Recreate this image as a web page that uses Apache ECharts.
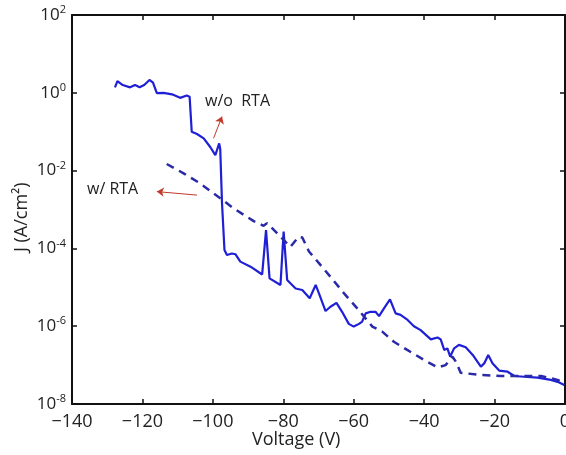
<!DOCTYPE html>
<html>
<head>
<meta charset="utf-8">
<script src="https://cdn.jsdelivr.net/npm/echarts@6/dist/echarts.min.js"></script>
<style>
html, body { margin: 0; padding: 0; background: #fff; }
#chart { width: 566px; height: 455px; }
</style>
</head>
<body>
<div id="chart"></div>
<script>
// w/o RTA (solid): voltage and log10(J)
var woVolt = [-127.8, -127.1, -125.6, -123.5, -122.1, -120.8, -119.5, -118.0, -117.0, -115.9,
  -114.0, -111.6, -109.3, -107.4, -106.6, -106.0, -104.5, -102.6, -100.7, -99.3,
  -98.8, -98.2, -97.9, -97.4, -96.7, -96.0, -94.6, -93.6, -92.2, -89.3,
  -86.0, -84.9, -83.9, -80.8, -79.9, -78.9, -76.5, -74.6, -72.5, -70.8,
  -69.9, -68.0, -66.6, -64.9, -63.3, -61.4, -60.0, -58.5, -57.6, -56.6,
  -55.2, -53.8, -52.8, -51.4, -49.7, -48.1, -46.7, -44.7, -42.9, -41.0,
  -38.1, -36.2, -35.3, -34.3, -33.4, -32.6, -31.5, -30.1, -28.2, -26.2,
  -23.9, -22.9, -21.8, -20.6, -18.7, -16.3, -14.4, -11.6, -7.8, -4.0,
  -2.1, -0.2];
var woLogJ = [0.14, 0.30, 0.20, 0.14, 0.20, 0.14, 0.20, 0.33, 0.26, -0.01,
  0.00, -0.04, -0.13, -0.07, -0.10, -1.00, -1.06, -1.17, -1.40, -1.60,
  -1.64, -1.30, -1.45, -2.84, -4.04, -4.17, -4.13, -4.15, -4.34, -4.47,
  -4.67, -3.53, -4.77, -4.94, -3.57, -4.81, -5.03, -5.07, -5.28, -4.94,
  -5.15, -5.61, -5.50, -5.40, -5.63, -5.94, -6.01, -5.94, -5.88, -5.67,
  -5.63, -5.63, -5.74, -5.54, -5.31, -5.67, -5.71, -5.84, -6.00, -6.10,
  -6.34, -6.29, -6.34, -6.61, -6.57, -6.78, -6.57, -6.48, -6.54, -6.74,
  -7.04, -6.95, -6.74, -6.95, -7.14, -7.17, -7.28, -7.30, -7.32, -7.38,
  -7.43, -7.51];

// w/ RTA (dashed): voltage and log10(J)
var wVolt = [-113.1, -108.3, -103.6, -97.9, -94.1, -88.4, -85.6, -84.6, -82.2, -81.7,
  -78.0, -75.6, -74.6, -72.7, -69.4, -66.6, -62.8, -59.0, -54.7, -51.9,
  -48.6, -44.8, -40.0, -36.2, -33.9, -32.0, -31.0, -29.6, -23.9, -18.2,
  -12.5, -6.8, -2.1, 0.0];
var wLogJ = [-1.83, -2.07, -2.33, -2.71, -2.97, -3.30, -3.42, -3.35, -3.57, -3.61,
  -3.96, -3.70, -3.72, -4.08, -4.43, -4.73, -5.15, -5.54, -6.01, -6.14,
  -6.40, -6.61, -6.87, -7.06, -7.00, -6.78, -6.91, -7.20, -7.25, -7.28,
  -7.28, -7.28, -7.38, -7.47];

var xTicks = [-140, -120, -100, -80, -60, -40, -20, 0];

function pairs(vs, ls) {
  return vs.map(function (v, i) { return [v, Math.pow(10, ls[i])]; });
}

var chart = echarts.init(document.getElementById('chart'), null, {renderer: 'canvas'});

var axisFont = 'Open Sans, DejaVu Sans, sans-serif';
var lineBlack = {show: true, onZero: false, lineStyle: {color: '#111', width: 2}};
var tickIn = {show: true, inside: true, length: 5, lineStyle: {color: '#111', width: 1.5}};

var option = {
  animation: false,
  grid: {left: 72, right: 1, top: 15, bottom: 51, containLabel: false, outerBoundsMode: 'none'},
  xAxis: [{
    type: 'value', min: -140, max: 0, interval: 20,
    axisLine: lineBlack, axisTick: tickIn, splitLine: {show: false},
    axisLabel: {
      fontSize: 18, color: '#222', fontFamily: axisFont, margin: 9,
      formatter: function (v) { return xTicks.indexOf(v) >= 0 ? (v < 0 ? '\u2212' + (-v) : String(v)) : ''; }
    }
  }, {
    type: 'value', min: -140, max: 0, interval: 20, position: 'top',
    axisLine: lineBlack, axisTick: tickIn, splitLine: {show: false},
    axisLabel: {show: false}
  }],
  yAxis: [{
    type: 'log', logBase: 10, min: 1e-8, max: 1e2, interval: 2,
    axisLine: lineBlack, axisTick: tickIn, splitLine: {show: false},
    minorTick: {show: false},
    axisLabel: {
      margin: 6, color: '#222', fontFamily: axisFont,
      formatter: function (v) {
        var e = Math.round(Math.log10(v));
        return '{b|10}{s|' + e + '}';
      },
      rich: {
        b: {fontSize: 17, color: '#222', fontFamily: axisFont},
        s: {fontSize: 11, color: '#222', fontFamily: axisFont, padding: [0, 0, 10, 0]}
      }
    }
  }, {
    type: 'log', logBase: 10, min: 1e-8, max: 1e2, interval: 2, position: 'right',
    axisLine: lineBlack, axisTick: tickIn, splitLine: {show: false},
    axisLabel: {show: false}
  }],
  series: [{
    name: 'w/o RTA', type: 'line', xAxisIndex: 0, yAxisIndex: 0,
    data: pairs(woVolt, woLogJ), showSymbol: false,
    lineStyle: {color: '#1f1fd6', width: 2.2},
    markLine: {
      silent: true, symbol: ['none', 'arrow'], symbolSize: 7,
      label: {show: false},
      lineStyle: {color: '#c0392b', width: 1, type: 'solid'},
      data: [[{coord: [-99.8, Math.pow(10, -1.17)]}, {coord: [-97.4, Math.pow(10, -0.61)]}]]
    }
  }, {
    name: 'w/ RTA', type: 'line', xAxisIndex: 0, yAxisIndex: 0,
    data: pairs(wVolt, wLogJ), showSymbol: false,
    lineStyle: {color: '#2a2aa8', width: 2.5, type: [8, 6]},
    markLine: {
      silent: true, symbol: ['none', 'arrow'], symbolSize: 7,
      label: {show: false},
      lineStyle: {color: '#c0392b', width: 1, type: 'solid'},
      data: [[{coord: [-104.5, Math.pow(10, -2.63)]}, {coord: [-115.9, Math.pow(10, -2.54)]}]]
    }
  }],
  graphic: [
    {type: 'text', left: 205, top: 93, style: {text: 'w/o  RTA', fontSize: 16, fill: '#222', fontFamily: axisFont}},
    {type: 'text', left: 87, top: 181, style: {text: 'w/ RTA', fontSize: 16, fill: '#222', fontFamily: axisFont}},
    {type: 'text', left: 252, top: 431, style: {text: 'Voltage (V)', fontSize: 18, fill: '#222', fontFamily: axisFont}},
    {type: 'text', x: 13, y: 252, rotation: Math.PI / 2, style: {text: 'J (A/cm\u00B2)', fontSize: 18, fill: '#222', fontFamily: axisFont}}
  ]
};
chart.setOption(option);
</script>
</body>
</html>
